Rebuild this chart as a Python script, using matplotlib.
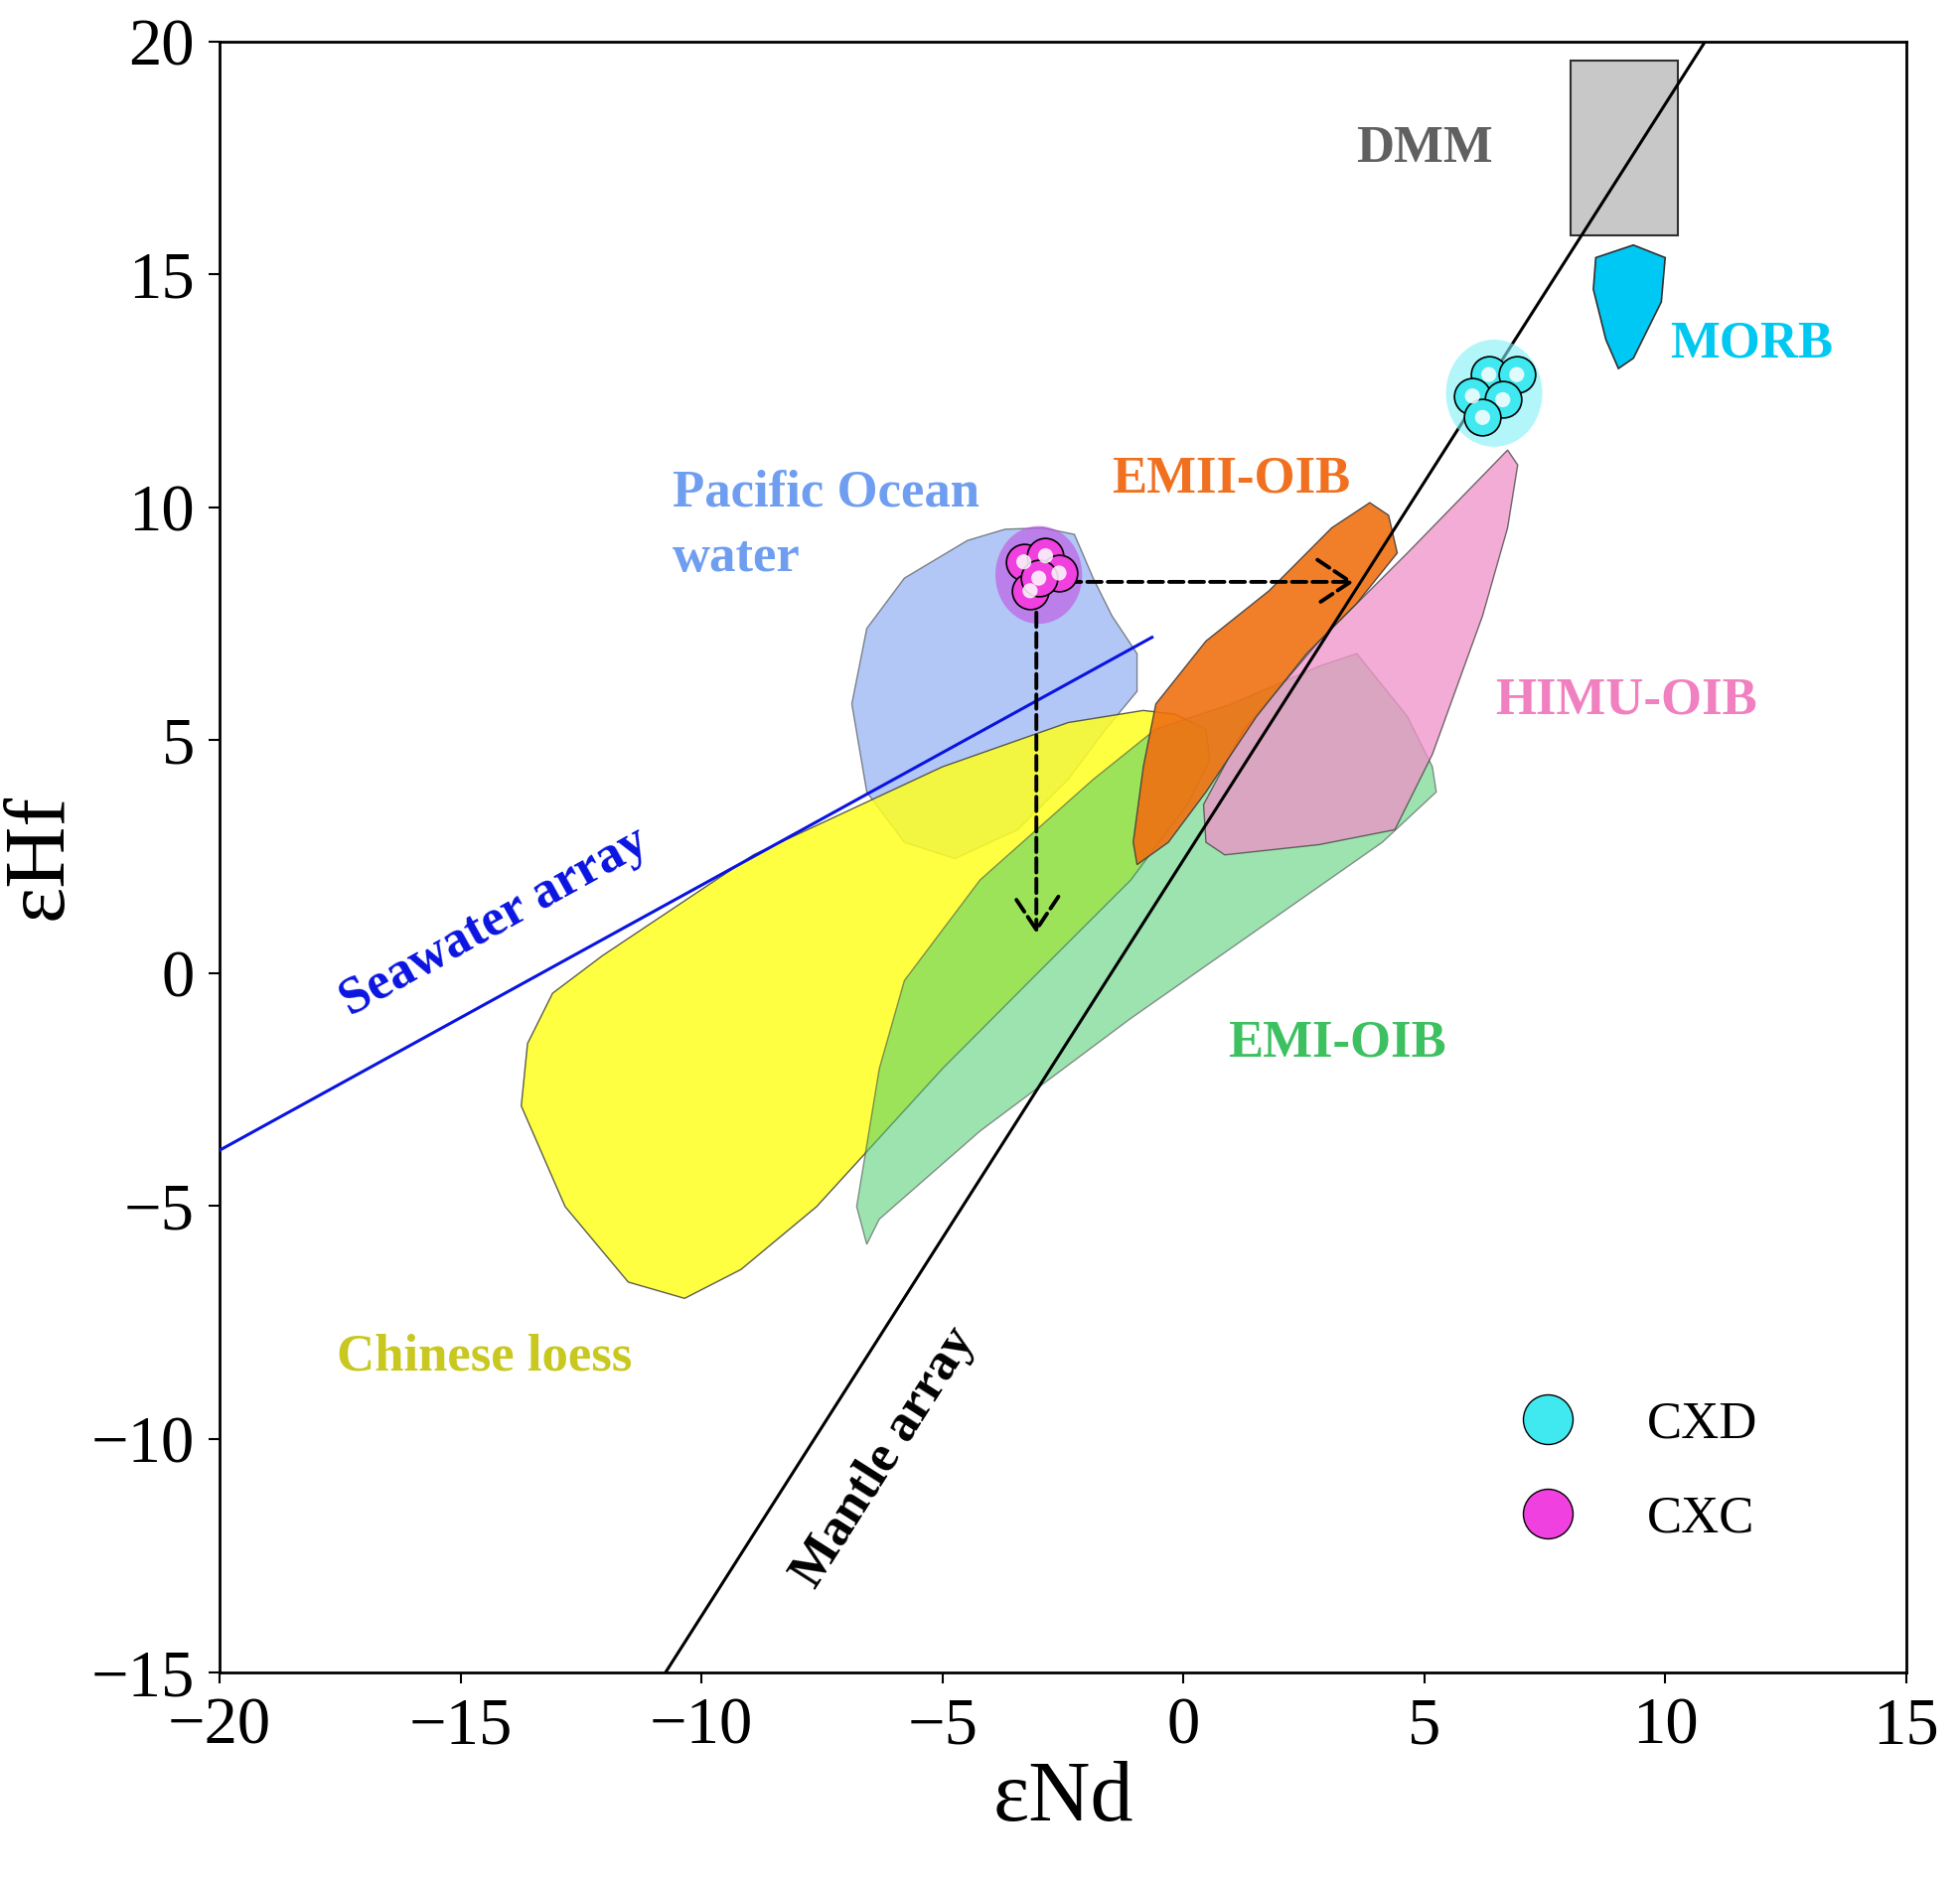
import matplotlib
matplotlib.use("Agg")
import matplotlib.pyplot as plt
from matplotlib.patches import Polygon, Rectangle, Ellipse
from matplotlib.lines import Line2D

plt.rcParams['font.family'] = ['Liberation Serif', 'DejaVu Serif']

# Field outlines (eNd, eHf)
pacific = [(-2.92,9.56),(-2.26,9.42),(-1.87,8.48),(-1.48,7.67),(-0.96,6.86),(-0.96,6.05),(-1.61,5.24),
           (-2.39,4.16),(-3.44,3.08),(-4.74,2.46),(-5.79,2.81),(-6.57,3.89),(-6.88,5.78),(-6.57,7.40),
           (-5.79,8.48),(-4.48,9.29),(-3.70,9.53)]
loess = [(-0.83,5.64),(-0.18,5.56),(0.47,5.24),(0.55,4.57),(0.08,3.62),(-1.09,2.0),(-2.92,0.11),(-5.0,-2.05),
         (-7.61,-5.01),(-9.18,-6.36),(-10.35,-6.98),(-11.52,-6.63),(-12.83,-5.01),(-13.74,-2.85),(-13.61,-1.51),
         (-13.09,-0.43),(-12.05,0.38),(-8.92,2.54),(-5.0,4.43),(-2.39,5.38)]
emi = [(-6.57,-5.82),(-6.78,-5.01),(-6.31,-2.05),(-5.79,-0.16),(-4.22,2.0),(-1.87,4.16),(-0.57,5.24),(1.0,5.78),
       (2.82,6.59),(3.6,6.86),(4.65,5.51),(5.17,4.43),(5.25,3.89),(4.13,2.81),(1.52,0.92),(-1.09,-0.97),
       (-4.22,-3.39),(-6.31,-5.28)]
emii = [(-0.96,2.33),(-1.04,2.81),(-0.83,4.43),(-0.57,5.78),(0.47,7.13),(1.78,8.21),(3.08,9.56),(3.87,10.1),
        (4.26,9.83),(4.44,9.02),(3.6,7.94),(2.56,6.86),(1.52,5.51),(0.47,3.89),(-0.31,2.81)]
himu = [(0.47,2.81),(0.42,3.62),(1.26,5.24),(2.82,7.13),(4.65,9.02),(6.73,11.23),(6.94,10.91),(6.73,9.56),
        (6.21,7.67),(5.17,4.70),(4.39,3.08),(2.82,2.76),(0.86,2.54)]
morb = [(8.56,15.36),(9.34,15.63),(10.0,15.36),(9.92,14.41),(9.34,13.2),(9.03,12.98),(8.77,13.6),(8.51,14.68)]
dmm_x = [8.04, 10.26]
dmm_y = [15.84, 19.6]

mantle_x = [-10.74, 10.83]
mantle_y = [-15.0, 20.0]
sea_x = [-20.0, -0.65]
sea_y = [-3.8, 7.21]

cxd_nd = [6.34, 6.92, 6.0, 6.63, 6.21]
cxd_hf = [12.85, 12.85, 12.39, 12.31, 11.93]
cxc_nd = [-3.31, -2.86, -2.58, -3.18, -3.0]
cxc_hf = [8.83, 8.96, 8.59, 8.21, 8.48]

fig = plt.figure(figsize=(19.74, 18.98), dpi=100)
ax = fig.add_axes([0.112, 0.113, 0.86, 0.865])
ax.set_xlim(-20, 15)
ax.set_ylim(-15, 20)

def field(pts, fc, alpha, z):
    ax.add_patch(Polygon(pts, closed=True, facecolor=fc, alpha=alpha, edgecolor='#404040', lw=1.0, zorder=z))

field(pacific, '#7fa3f0', 0.6, 2)
field(loess, '#ffff20', 0.85, 3)
field(emi, '#4ccc70', 0.55, 4)
field(himu, '#f090c8', 0.75, 5)
field(emii, '#f07010', 0.9, 6)
ax.add_patch(Polygon(morb, closed=True, facecolor='#00c8f4', edgecolor='#303030', lw=1.2, zorder=6))
ax.add_patch(Rectangle((dmm_x[0], dmm_y[0]), dmm_x[1]-dmm_x[0], dmm_y[1]-dmm_y[0],
                       facecolor='#c8c8c8', edgecolor='#303030', lw=1.5, zorder=6))

ax.plot(mantle_x, mantle_y, color='black', lw=2.2, zorder=7)
ax.plot(sea_x, sea_y, color='#0a14e0', lw=2.2, zorder=7)

# arrows
ax.annotate('', xy=(3.6, 8.4), xytext=(-2.9, 8.4),
            arrowprops=dict(arrowstyle='->,head_length=0.6,head_width=0.4', linestyle='--', lw=2.8,
                            color='black', mutation_scale=40), zorder=9)
ax.annotate('', xy=(-3.05, 0.8), xytext=(-3.05, 7.8),
            arrowprops=dict(arrowstyle='->,head_length=0.6,head_width=0.4', linestyle='--', lw=2.8,
                            color='black', mutation_scale=40), zorder=9)

# halos and samples
ax.add_patch(Ellipse((6.45, 12.45), 2.0, 2.3, facecolor='#80f0f8', alpha=0.6, edgecolor='none', zorder=8))
ax.add_patch(Ellipse((-3.0, 8.55), 1.8, 2.1, facecolor='#c050e0', alpha=0.6, edgecolor='none', zorder=8))

def spheres(x, y, col, z=10):
    ax.scatter(x, y, s=700, c=col, edgecolors='black', linewidths=1.2, zorder=z)
    ax.scatter(x, y, s=120, c='white', edgecolors='none', alpha=0.85, zorder=z+0.1)

spheres(cxd_nd, cxd_hf, '#40e8f0')
spheres(cxc_nd, cxc_hf, '#f040e0')

fs = 38
ax.text(5.0, 17.7, 'DMM', color='#606060', fontsize=fs, weight='bold', ha='center', va='center')
ax.text(11.8, 13.5, 'MORB', color='#00c8f0', fontsize=fs, weight='bold', ha='center', va='center')
ax.text(-10.6, 10.3, 'Pacific Ocean', color='#6f9ef0', fontsize=fs, weight='bold', ha='left', va='center')
ax.text(-10.6, 8.9, 'water', color='#6f9ef0', fontsize=fs, weight='bold', ha='left', va='center')
ax.text(1.0, 10.6, 'EMII-OIB', color='#f07020', fontsize=fs, weight='bold', ha='center', va='center')
ax.text(9.2, 5.85, 'HIMU-OIB', color='#f080c0', fontsize=fs, weight='bold', ha='center', va='center')
ax.text(3.2, -1.5, 'EMI-OIB', color='#3cc060', fontsize=fs, weight='bold', ha='center', va='center')
ax.text(-14.5, -8.25, 'Chinese loess', color='#c8c820', fontsize=fs, weight='bold', ha='center', va='center')
ax.text(-14.3, 1.1, 'Seawater array', color='#0a14e0', fontsize=fs, weight='bold', ha='center', va='center', rotation=29)
ax.text(-6.2, -10.4, 'Mantle array', color='black', fontsize=fs, weight='bold', ha='center', va='center', rotation=57.5)

handles = [Line2D([], [], ls='none', marker='o', ms=36, mfc='#40e8f0', mec='black', label='CXD'),
           Line2D([], [], ls='none', marker='o', ms=36, mfc='#f040e0', mec='black', label='CXC')]
ax.legend(handles=handles, loc='lower right', bbox_to_anchor=(0.94, 0.05), frameon=False,
          fontsize=38, labelspacing=0.9, handletextpad=0.9)

ax.set_xticks(range(-20, 16, 5))
ax.set_yticks(range(-15, 21, 5))
ax.tick_params(labelsize=48, length=8, width=1.5, pad=10)
for s in ax.spines.values():
    s.set_linewidth(2)
ax.set_xlabel('εNd', fontsize=62, labelpad=2)
ax.set_ylabel('εHf', fontsize=62, labelpad=8)
fig.savefig('out.png', dpi=100)
